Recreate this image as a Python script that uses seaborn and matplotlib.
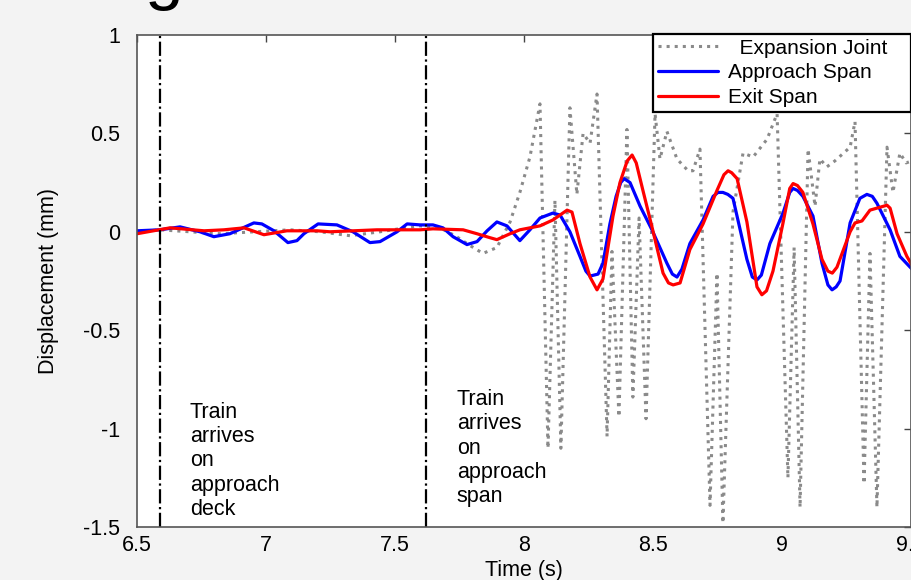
import matplotlib
matplotlib.use("Agg")
import matplotlib.pyplot as plt
import seaborn as sns

# Expansion joint (grey dotted)
joint_t = [6.500, 6.589, 6.705, 6.822, 6.957, 7.093, 7.209, 7.326, 7.442, 7.539,
           7.597, 7.674, 7.733, 7.791, 7.841, 7.895, 7.946, 7.984, 8.023, 8.062,
           8.093, 8.120, 8.143, 8.178, 8.205, 8.229, 8.256, 8.283, 8.322, 8.341,
           8.368, 8.399, 8.422, 8.446, 8.473, 8.508, 8.527, 8.554, 8.593, 8.636,
           8.655, 8.682, 8.721, 8.748, 8.771, 8.810, 8.849, 8.888, 8.942, 8.981,
           9.023, 9.047, 9.070, 9.101, 9.128, 9.147, 9.174, 9.205, 9.264, 9.283,
           9.318, 9.341, 9.368, 9.407, 9.430, 9.457, 9.481, 9.504]
joint_d = [0.0, 0.01, 0.0, -0.01, 0.0, 0.01, 0.0, -0.02, 0.0, 0.02,
           0.03, 0.02, -0.02, -0.07, -0.11, -0.08, 0.05, 0.2, 0.38, 0.65,
           -1.1, 0.16, -1.1, 0.63, 0.19, 0.5, 0.45, 0.70, -1.04, -0.1,
           -0.94, 0.52, -0.84, 0.07, -0.95, 0.6, 0.37, 0.51, 0.37, 0.31,
           0.31, 0.42, -1.39, -0.21, -1.48, 0.1, 0.4, 0.38, 0.47, 0.6,
           -1.25, -0.08, -1.4, 0.42, 0.13, 0.37, 0.33, 0.36, 0.43, 0.56,
           -1.28, -0.11, -1.4, 0.43, 0.2, 0.4, 0.35, 0.36]

# Approach span (blue)
approach_t = [6.500, 6.589, 6.667, 6.744, 6.798, 6.860, 6.953, 6.984, 7.031, 7.085,
              7.120, 7.147, 7.202, 7.275, 7.337, 7.403, 7.442, 7.508, 7.547, 7.597,
              7.647, 7.686, 7.725, 7.779, 7.818, 7.857, 7.895, 7.934, 7.984, 8.023,
              8.062, 8.112, 8.140, 8.178, 8.217, 8.240, 8.256, 8.287, 8.306, 8.333,
              8.357, 8.375, 8.388, 8.411, 8.450, 8.496, 8.554, 8.575, 8.593, 8.612,
              8.643, 8.694, 8.733, 8.752, 8.771, 8.790, 8.810, 8.864, 8.885, 8.903,
              8.920, 8.953, 9.004, 9.030, 9.043, 9.060, 9.081, 9.120, 9.155, 9.178,
              9.194, 9.210, 9.225, 9.264, 9.302, 9.329, 9.350, 9.368, 9.419, 9.457,
              9.504]
approach_d = [0.005, 0.01, 0.025, 0.0, -0.025, -0.01, 0.045, 0.04, 0.005, -0.055,
              -0.045, -0.01, 0.04, 0.035, 0.0, -0.055, -0.05, 0.0, 0.04, 0.035,
              0.035, 0.02, -0.025, -0.065, -0.05, 0.005, 0.05, 0.03, -0.045, 0.01,
              0.07, 0.095, 0.085, 0.0, -0.125, -0.2, -0.225, -0.215, -0.16, 0.04,
              0.18, 0.25, 0.27, 0.25, 0.13, 0.01, -0.16, -0.215, -0.23, -0.19,
              -0.06, 0.06, 0.18, 0.2, 0.2, 0.19, 0.17, -0.14, -0.23, -0.245,
              -0.22, -0.06, 0.095, 0.2, 0.22, 0.21, 0.18, 0.08, -0.16, -0.27,
              -0.295, -0.28, -0.25, 0.045, 0.17, 0.19, 0.18, 0.145, 0.01, -0.125,
              -0.19]

# Exit span (red)
exit_t = [6.500, 6.628, 6.760, 6.837, 6.915, 6.992, 7.081, 7.198, 7.248, 7.430,
          7.597, 7.647, 7.764, 7.818, 7.868, 7.895, 7.946, 7.984, 8.062, 8.112,
          8.167, 8.186, 8.217, 8.256, 8.283, 8.306, 8.345, 8.372, 8.400, 8.419,
          8.435, 8.461, 8.496, 8.539, 8.560, 8.578, 8.605, 8.643, 8.694, 8.748,
          8.775, 8.791, 8.805, 8.826, 8.864, 8.903, 8.922, 8.940, 8.965, 9.004,
          9.030, 9.043, 9.060, 9.081, 9.120, 9.155, 9.178, 9.195, 9.213, 9.264,
          9.283, 9.310, 9.341, 9.407, 9.419, 9.446, 9.484, 9.504]
exit_d = [-0.01, 0.02, 0.005, 0.01, 0.02, -0.015, 0.005, 0.005, 0.0, 0.01,
          0.01, 0.015, 0.01, -0.01, -0.03, -0.04, -0.01, 0.01, 0.03, 0.06,
          0.11, 0.1, -0.06, -0.23, -0.295, -0.24, 0.08, 0.25, 0.36, 0.39,
          0.35, 0.21, 0.025, -0.21, -0.26, -0.27, -0.26, -0.09, 0.04, 0.21,
          0.29, 0.31, 0.3, 0.27, 0.05, -0.28, -0.32, -0.3, -0.2, 0.045,
          0.22, 0.245, 0.235, 0.2, 0.04, -0.14, -0.2, -0.21, -0.18, 0.0,
          0.045, 0.055, 0.11, 0.135, 0.12, -0.01, -0.125, -0.17]

event_times = [6.59, 7.62]
event_labels = ["Train\narrives\non\napproach\ndeck", "Train\narrives\non\napproach\nspan"]
event_label_pos = [(6.705, -0.865), (7.74, -0.80)]

x_ticks = [6.5, 7, 7.5, 8, 8.5, 9, 9.5]
x_ticklabels = ["6.5", "7", "7.5", "8", "8.5", "9", "9.5"]
y_ticks = [1, 0.5, 0, -0.5, -1, -1.5]
y_ticklabels = ["1", "0.5", "0", "-0.5", "-1", "-1.5"]

sns.set_theme(style="white")
plt.rcParams["font.family"] = ["Liberation Sans", "DejaVu Sans"]
plt.rcParams["text.color"] = "black"
plt.rcParams["axes.labelcolor"] = "black"

fig = plt.figure(figsize=(9.12, 5.8), dpi=100, facecolor="#f3f3f3")
ax = fig.add_axes([0.1502, 0.0914, 0.8487, 0.8483])
ax.set_facecolor("white")

sns.lineplot(x=joint_t, y=joint_d, ax=ax, sort=False, color="#8a8a8a",
             linestyle=":", linewidth=2.2, label="  Expansion Joint")
sns.lineplot(x=approach_t, y=approach_d, ax=ax, sort=False, color="#0000ff",
             linewidth=2.3, label="Approach Span")
sns.lineplot(x=exit_t, y=exit_d, ax=ax, sort=False, color="#ff0000",
             linewidth=2.3, label="Exit Span")

for t in event_times:
    ax.axvline(t, color="black", linestyle="-.", linewidth=1.6)
for txt, (tx, ty) in zip(event_labels, event_label_pos):
    ax.text(tx, ty, txt, fontsize=15.5, va="top", ha="left", linespacing=1.2,
            color="black")

ax.set_xlim(6.5, 9.5)
ax.set_ylim(-1.5, 1)
ax.set_xticks(x_ticks)
ax.set_xticklabels(x_ticklabels)
ax.set_yticks(y_ticks)
ax.set_yticklabels(y_ticklabels)
ax.tick_params(direction="in", top=True, right=True, length=5, width=1,
               labelsize=15.5, colors="#444444", labelcolor="black")
ax.tick_params(axis="y", pad=12)
ax.tick_params(axis="x", pad=6)
for s in ax.spines.values():
    s.set_color("#555555")
    s.set_linewidth(1.2)

ax.set_xlabel("Time (s)", fontsize=15.5, labelpad=3)
ax.set_ylabel("Displacement (mm)", fontsize=15.5, labelpad=17)

leg = ax.legend(loc="upper right", bbox_to_anchor=(0.6667, 0.5, 0.3333, 0.502),
                mode="expand", borderaxespad=0,
                fontsize=15, frameon=True, fancybox=False, framealpha=1,
                edgecolor="black", handlelength=2.9, handletextpad=0.5,
                labelspacing=0.28, borderpad=0.22)
leg.get_frame().set_linewidth(1.6)

# fragment of the slide title above the chart
fig.text(0.158, 1.006, "g", fontsize=50, va="baseline", ha="left")

fig.savefig("out.png", dpi=100, facecolor=fig.get_facecolor())
